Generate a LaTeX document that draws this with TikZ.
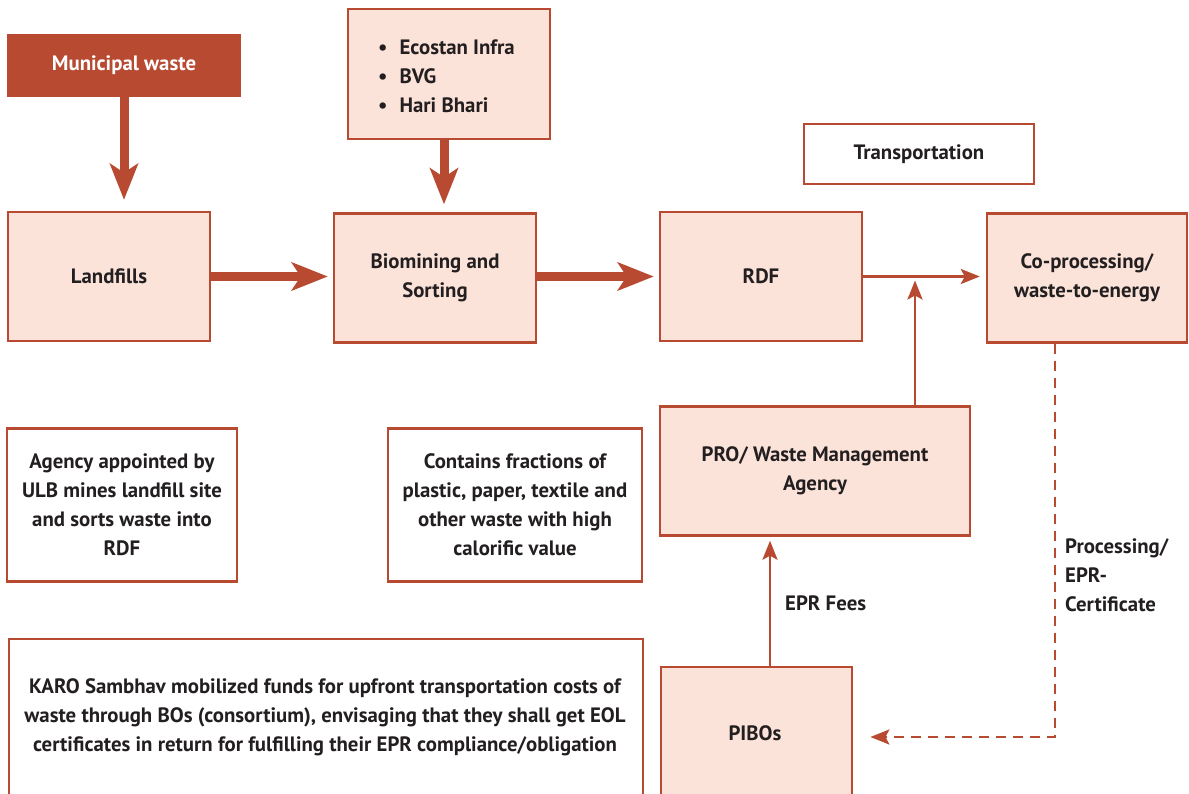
\documentclass[tikz,border=0pt]{standalone}
\usepackage{fontspec}
\setmainfont{PT Sans}
\usetikzlibrary{arrows.meta}
\definecolor{brick}{HTML}{B84A32}
\definecolor{pinkfill}{HTML}{FCE3DA}
\definecolor{txt}{HTML}{231F20}
\begin{document}
\begin{tikzpicture}[x=1pt,y=-1pt,
  box/.style={draw=brick,line width=2.4pt,fill=pinkfill,text=txt,align=center,inner sep=0pt,font=\fontsize{20.8}{29}\selectfont\bfseries},
  wbox/.style={box,fill=white},
  thick arrow/.style={draw=brick,line width=9pt,-{Stealth[length=36pt,width=28pt,inset=9pt]}},
  thin arrow/.style={draw=brick,line width=2.8pt,-{Stealth[length=19pt,width=15pt,inset=4pt]}},
  lbl/.style={text=txt,font=\fontsize{20.8}{29}\selectfont\bfseries,align=left,inner sep=0pt}]
\useasboundingbox (0,0) rectangle (1189,794);
\fill[white] (0,0) rectangle (1189,794);

\node[box,fill=brick,text=white,minimum width=232pt,minimum height=61pt] (muni) at (124,65.5) {\raisebox{-3pt}{Municipal waste}};
\node[box,minimum width=202pt,minimum height=130pt] (eco) at (449,74) {};
\node[lbl,anchor=west] (e1) at (378,47) {\textbullet\hspace{12pt}Ecostan Infra};
\node[lbl,anchor=west] (e2) at (378,76) {\textbullet\hspace{12pt}BVG};
\node[lbl,anchor=west] (e3) at (378,105) {\textbullet\hspace{12pt}Hari Bhari};
\node[wbox,minimum width=230pt,minimum height=60pt] (trans) at (919,154) {\raisebox{-3pt}{Transportation}};

\node[box,minimum width=202pt,minimum height=129pt] (land) at (109,276.5) {\raisebox{-2pt}{Landfills}};
\node[box,minimum width=202pt,minimum height=129pt] (bio) at (435,278) {Biomining and\\Sorting};
\node[box,minimum width=202pt,minimum height=129pt] (rdf) at (761,276.5) {\raisebox{-2pt}{RDF}};
\node[box,minimum width=200pt,minimum height=129pt] (cop) at (1087,278) {Co-processing/\\waste-to-energy};

\node[wbox,minimum width=230pt,minimum height=153pt] (agency) at (122,505) {Agency appointed by\\ULB mines landfill site\\and sorts waste into\\RDF};
\node[wbox,minimum width=254pt,minimum height=153pt] (contains) at (515,505) {Contains fractions of\\plastic, paper, textile and\\other waste with high\\calorific value};
\node[box,minimum width=310pt,minimum height=129pt] (pro) at (815,471) {PRO/ Waste Management\\Agency};

\node[wbox,minimum width=634pt,minimum height=170pt,anchor=north west] (karo) at (8,638) {};
\node[lbl,align=center] (karot) at (325,717) {KARO Sambhav mobilized funds for upfront transportation costs of\\waste through BOs (consortium), envisaging that they shall get EOL\\certificates in return for fulfilling their EPR compliance/obligation};
\node[box,minimum width=191pt,minimum height=140pt,anchor=north west] (pibo) at (660,666) {};
\node[lbl] (pibot) at (755,733) {PIBOs};

\coordinate (j) at (915,276.5);
\coordinate (dc) at (1055,737);

\draw[thick arrow,shorten >=11pt] (muni.south) -- (muni.south |- land.north);
\draw[thick arrow,shorten >=8pt] (eco.south -| 444,0) -- (bio.north -| 444,0);
\draw[thick arrow,shorten >=5pt] (land.east) -- (bio.west |- land.east);
\draw[thick arrow,shorten >=5pt] (bio.east |- rdf.west) -- (rdf.west);
\draw[thin arrow,shorten >=6pt] (rdf.east) -- (cop.west |- rdf.east);
\draw[thin arrow,shorten >=4pt] (pro.north -| j) -- (j);
\draw[thin arrow,shorten >=4pt] (pibo.north -| 770,0) -- (pro.south -| 770,0);
\draw[thin arrow,shorten >=17pt,dash pattern=on 10pt off 7pt] (cop.south -| dc) -- (dc) -- (pibo.east |- dc);

\node[lbl,anchor=west] (fees) at (785,603) {EPR Fees};
\node[lbl,anchor=north west] (proc) at (1065,538) {Processing/\\EPR-\\Certificate};
\end{tikzpicture}
\end{document}
